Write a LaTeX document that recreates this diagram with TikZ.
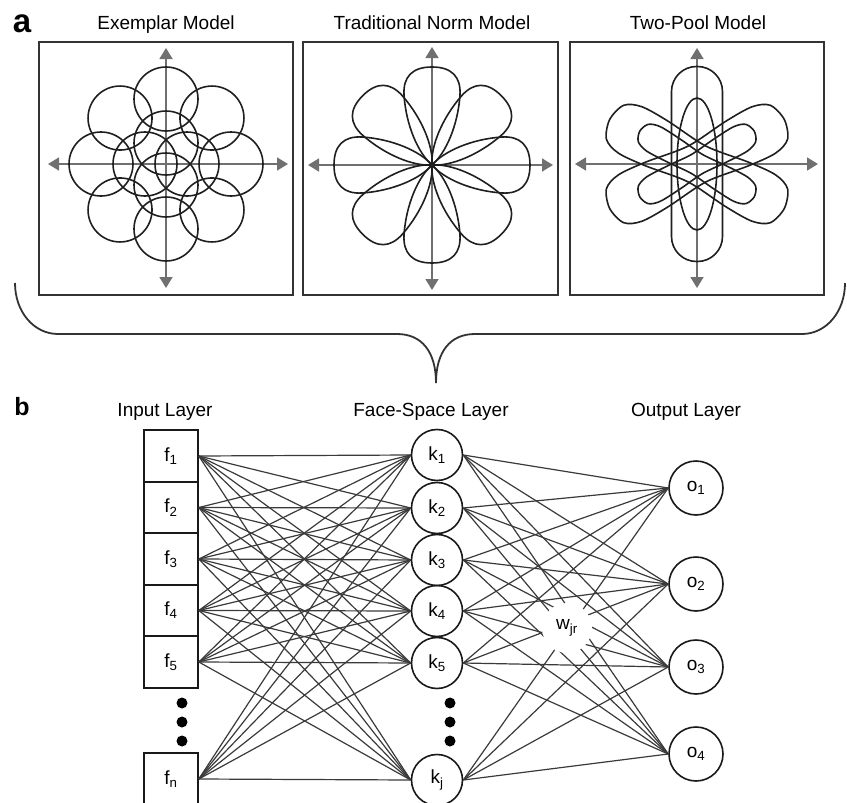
\documentclass[tikz,border=0pt]{standalone}
\usepackage{fontspec}
\setmainfont{Liberation Sans}
\usetikzlibrary{arrows.meta}
\definecolor{axisgray}{HTML}{707070}
\definecolor{wiregray}{HTML}{3A3A3A}
\tikzset{
  panelbox/.style={draw=black!80, line width=1.8pt},
  curve/.style={draw=black!88, line width=1.6pt},
  axis/.style={draw=axisgray, fill=axisgray, line width=1.6pt,
    {Triangle[length=11pt,width=13pt]}-{Triangle[length=11pt,width=13pt]}},
  title/.style={anchor=base, font=\fontsize{19}{22}\selectfont},
  inbox/.style={draw=black!90, line width=1.6pt, minimum width=54pt,
    minimum height=51.5pt, inner sep=0pt, font=\fontsize{19}{22}\selectfont},
  unit/.style={circle, draw=black!90, line width=1.6pt, minimum size=51pt,
    inner sep=0pt, font=\fontsize{19}{22}\selectfont},
  wire/.style={draw=wiregray, line width=1.2pt},
  brace/.style={draw=black!80, line width=1.8pt},
}
\begin{document}
\begin{tikzpicture}[x=1pt,y=-1pt]
\useasboundingbox (0,0) rectangle (847,803);

% PANEL A
\node[anchor=base, font=\bfseries\fontsize{33}{33}\selectfont] (lbla) at (22,32) {a};
\node[title] (t1) at (166,30) {Exemplar Model};
\node[title] (t2) at (432,30) {Traditional Norm Model};
\node[title] (t3) at (698,30) {Two-Pool Model};

\draw[panelbox] (39,42) rectangle (293,295);
\draw[panelbox] (303,42) rectangle (558,295);
\draw[panelbox] (570,42) rectangle (824,295);

% axes
\draw[axis] (48,164) -- (288,164);
\draw[axis] (166,48) -- (166,288);
\draw[axis] (308,165) -- (553,165);
\draw[axis] (432,47) -- (432,290);
\draw[axis] (575,164) -- (818,164);
\draw[axis] (697,48) -- (697,288);

% exemplar circles
\begin{scope}[shift={(166,164)}]
  \foreach \a in {0,45,...,315} \draw[curve] (\a:65pt) circle[radius=32pt];
  \foreach \a in {0,90,180,270} \draw[curve] (\a:21pt) circle[radius=32pt];
\end{scope}

% norm petals
\begin{scope}[shift={(432,165)}]
  \foreach \a in {0,45,...,315}
    \draw[curve, rotate=\a] (0,0) .. controls (12,14) and (40,26) .. (70,28)
      .. controls (88,29) and (98,20) .. (98,0)
      .. controls (98,-20) and (88,-29) .. (70,-28)
      .. controls (40,-26) and (12,-14) .. (0,0);
\end{scope}

% two pools
\begin{scope}[shift={(697,164)}]
  \draw[curve, rounded corners=25pt] (-25.5,-97.5) rectangle (25.5,97.5);
  \draw[curve] (0,0) ellipse[x radius=20pt, y radius=66pt];
  \foreach \a in {27,-27}
    \draw[curve, rotate=\a] plot[smooth cycle] coordinates {(98,0) (92,19)
      (75,26) (45,25) (0,20) (-45,25) (-75,26) (-92,19) (-98,0) (-92,-19)
      (-75,-26) (-45,-25) (0,-20) (45,-25) (75,-26) (92,-19)};
  \foreach \a in {30,-30}
    \draw[curve, rotate=\a] plot[smooth cycle] coordinates {(66,0) (62,10)
      (50,14) (25,13) (0,11) (-25,13) (-50,14) (-62,10) (-66,0) (-62,-10)
      (-50,-14) (-25,-13) (0,-11) (25,-13) (50,-14) (62,-10)};
\end{scope}

% BRACE
\draw[brace] (15,283) .. controls (15,312) and (34,334) .. (58,334) -- (397,334)
  .. controls (422,334) and (436,352) .. (436,383)
  .. controls (436,352) and (450,334) .. (475,334) -- (802,334)
  .. controls (826,334) and (845,312) .. (845,283);

% PANEL B
\node[anchor=base, font=\bfseries\fontsize{25}{25}\selectfont] (lblb) at (22,415) {b};
\node[title] (lin) at (165,416) {Input Layer};
\node[title] (lface) at (431,416) {Face-Space Layer};
\node[title] (lout) at (686,416) {Output Layer};

\node[inbox] (f1) at (171,456) {f\textsubscript{1}};
\node[inbox] (f2) at (171,507.5) {f\textsubscript{2}};
\node[inbox] (f3) at (171,559) {f\textsubscript{3}};
\node[inbox] (f4) at (171,610.5) {f\textsubscript{4}};
\node[inbox] (f5) at (171,662) {f\textsubscript{5}};
\node[inbox] (fn) at (171,779) {f\textsubscript{n}};

\node[unit] (k1) at (437,455) {k\textsubscript{1}};
\node[unit] (k2) at (437,508) {k\textsubscript{2}};
\node[unit] (k3) at (437,560) {k\textsubscript{3}};
\node[unit] (k4) at (437,611) {k\textsubscript{4}};
\node[unit] (k5) at (437,663) {k\textsubscript{5}};
\node[unit] (kj) at (437,780) {k\textsubscript{j}};

\node[unit, minimum size=54pt] (o1) at (696,488) {o\textsubscript{1}};
\node[unit, minimum size=54pt] (o2) at (696,584) {o\textsubscript{2}};
\node[unit, minimum size=54pt] (o3) at (696,667) {o\textsubscript{3}};
\node[unit, minimum size=54pt] (o4) at (696,754) {o\textsubscript{4}};

% dots
\foreach \y in {703,722,741} {
  \fill (182,\y) circle[radius=5.5pt];
  \fill (450,\y) circle[radius=5.5pt];
}

% WEIGHTS
\foreach \i in {1,2,3,4,5,n}
  \foreach \j in {1,2,3,4,5,j}
    \draw[wire] (f\i.east) -- (k\j.west);
\foreach \j in {1,2,3,4,5,j}
  \foreach \r in {1,2,3,4}
    \draw[wire] (k\j.east) -- (o\r.west);

\node[circle, fill=white, minimum size=50pt, inner sep=0pt,
  font=\fontsize{19}{22}\selectfont] (w) at (567,628) {w\textsubscript{jr}};

\end{tikzpicture}
\end{document}
